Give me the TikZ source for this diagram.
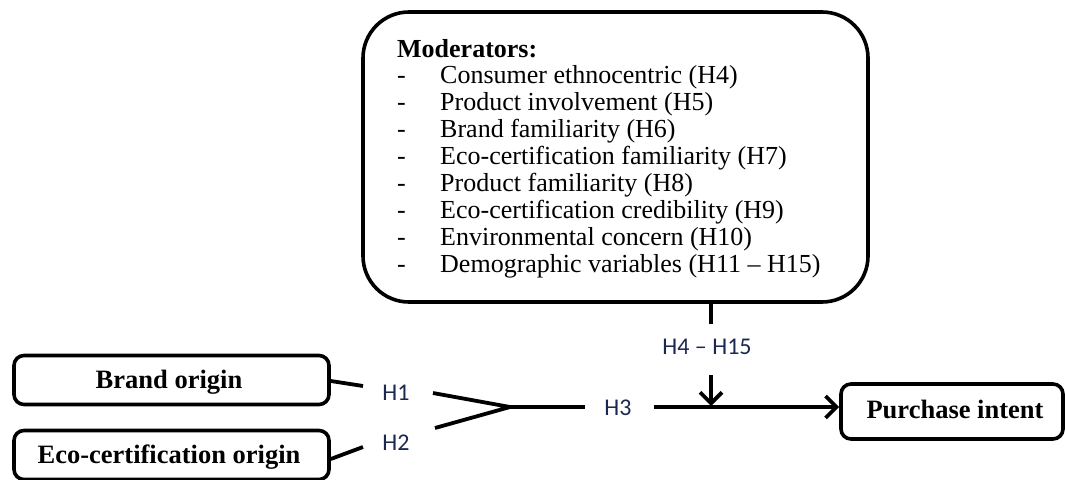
\documentclass[tikz,border=0pt]{standalone}
\usepackage{fontspec}
\setmainfont{Liberation Serif}
\newfontfamily\labfont{Carlito}
\usetikzlibrary{arrows.meta}
\definecolor{labcol}{RGB}{28,40,80}
\tikzset{
  box/.style={draw, line width=3.6pt, rounded corners=10pt, inner sep=0pt},
  boxtext/.style={font=\fontsize{26.5}{28}\selectfont\bfseries},
  listtext/.style={font=\fontsize{26}{27}\selectfont, inner sep=0pt, anchor=base west},
  hlab/.style={font=\labfont\fontsize{24}{26}\selectfont, text=labcol, inner sep=0pt},
  link/.style={line width=3.8pt},
  arr/.style={line width=3.8pt, -{Straight Barb[length=11pt,width=22pt,line width=3.8pt]}}
}
\begin{document}
\begin{tikzpicture}[x=1pt,y=-1pt]
\useasboundingbox (0,0) rectangle (1065,479);
% moderators box
\node[box, rounded corners=46pt, minimum width=505pt, minimum height=290pt] (mod) at (615.5,157) {};
\node[listtext, font=\fontsize{26}{27}\selectfont\bfseries] (mh) at (397,57) {Moderators:};
\foreach \t [count=\i] in {Consumer ethnocentric (H4), Product involvement (H5), Brand familiarity (H6), Eco-certification familiarity (H7), Product familiarity (H8), Eco-certification credibility (H9), Environmental concern (H10), Demographic variables (H11 -- H15)}{
  \node[listtext] (d\i) at (397,{56+27*\i}) {-};
  \node[listtext] (m\i) at (440,{56+27*\i}) {\t};
}
% left boxes
\node[box, minimum width=315pt, minimum height=49pt] (bo) at (171.5,380) {};
\node[boxtext, anchor=base] (bot) at (169,388) {Brand origin};
\node[box, minimum width=315pt, minimum height=49pt] (eo) at (171.5,455) {};
\node[boxtext, anchor=base] (eot) at (169,463) {Eco-certification origin};
% purchase box
\node[box, minimum width=222pt, minimum height=55pt] (pi) at (952,411.5) {};
\node[boxtext, anchor=base] (pit) at (955,418) {Purchase intent};
% labels
\node[hlab] (h1) at (396,393) {H1};
\node[hlab] (h2) at (396,443) {H2};
\node[hlab] (h3) at (618,408) {H3};
\node[hlab] (h415) at (707,347) {H4 – H15};
% coordinates
\coordinate (b1) at (363,386);
\coordinate (e1) at (363,447);
\coordinate (u0) at (433,393);
\coordinate (l0) at (435,428);
\coordinate (tip) at (510,407);
\coordinate (h3l) at (585,407);
\coordinate (h3r) at (654,407);
\coordinate (vt) at (711,302);
\coordinate (vb) at (711,323.5);
\coordinate (va) at (711,375);
\coordinate (vj) at (711,406);
% connectors
\draw[link] (bo.east |- 0,381) -- (b1);
\draw[link] (eo.east |- 0,459) -- (e1);
\draw[link, line join=miter] (u0) -- (tip) -- (l0);
\draw[link] (tip) -- (h3l);
\draw[arr] (h3r) -- (h3r -| pi.west);
\draw[link] (mod.south -| vt) -- (vb);
\draw[arr] (va) -- (vj);
\end{tikzpicture}
\end{document}
